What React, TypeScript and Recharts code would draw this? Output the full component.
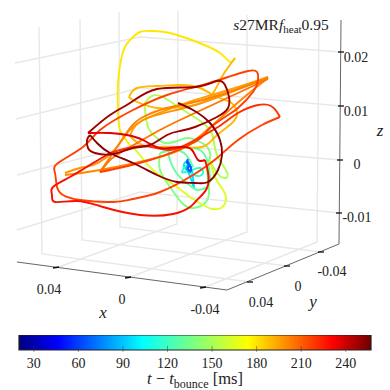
import React from "react";
import { ComposedChart, AreaChart, Area, Line, Scatter, XAxis, YAxis, ReferenceArea } from "recharts";

type P = [number, number];

const PLOT_FONT = "'Liberation Serif', 'DejaVu Serif', serif";

// Axis tick labels
const colorbarTicks = [30, 60, 90, 120, 150, 180, 210, 240];
const colorbarDomain = [20, 257];
const jetStops: [number, string][] = [
  [0, "#00007f"], [0.11, "#0000ff"], [0.35, "#00ffff"], [0.5, "#80ff7f"],
  [0.65, "#ffff00"], [0.89, "#ff0000"], [1, "#6f0000"],
];

// Grid lines and box, as read in the projected plane of the 3-D view
const gridSegments: P[][] = [
  [[15, 63], [140, 37], [341, 52]],
  [[16, 119], [140, 88], [341, 106]],
  [[17, 175], [140, 143], [340, 160]],
  [[17, 230], [140, 192], [339, 213]],
  [[39, 27], [42, 254], [250, 282]],
  [[80, 19], [82, 240], [287, 266]],
  [[119, 12], [120, 227], [321, 252]],
  [[178, 11], [177, 224], [56, 268]],
  [[247, 15], [247, 232], [128, 278]],
  [[319, 20], [317, 242], [203, 288]],
];
const boxAxes: P[][] = [
  [[17, 262], [227, 290], [339, 244], [341, 20]],
];
const tickMarks: P[][] = [
  [[53, 268], [59, 267]], [[125, 278], [131, 277]], [[200, 288], [206, 287]],
  [[247, 282], [253, 282]], [[284, 266], [290, 266]], [[318, 252], [324, 252]],
  [[338, 52], [344, 52]], [[338, 106], [344, 106]], [[337, 160], [343, 160]], [[336, 213], [342, 213]],
];

// Trajectory, one list per time band (early to late)
const navyA: P[] = [[188, 159], [187, 163], [190, 165], [188, 168], [191, 171], [190, 166], [187, 161]];
const blueA: P[] = [[187, 160], [189, 164], [187, 168], [190, 172], [191, 166]];
const cyanA: P[] = [[191, 166], [186, 162], [184, 166], [188, 172], [192, 182], [194, 188], [193, 178], [192, 170]];
const tealA: P[] = [[192, 170], [200, 168], [203, 173], [197, 176], [188, 172], [182, 172], [187, 165], [193, 167]];
const springA: P[] = [[193, 167], [184, 153], [170, 150], [170, 160], [178, 175], [192, 187], [198, 190], [207, 187], [210, 177], [207, 160], [200, 150], [190, 148], [177, 148], [170, 150], [160, 153]];
const greenA: P[] = [[160, 153], [160, 170], [170, 187], [182, 203], [193, 208], [205, 203], [209, 190], [207, 168], [210, 158], [208, 148], [200, 142], [188, 138], [177, 141], [165, 143], [157, 138]];
const limeA: P[] = [[157, 138], [148, 127], [145, 110], [145, 103], [152, 96], [163, 97], [180, 108], [203, 123], [213, 137], [217, 155], [227, 172], [225, 178], [217, 173], [210, 160]];
const yellowGreenA: P[] = [[210, 160], [215, 177], [223, 190], [226, 200], [221, 208], [213, 209], [207, 207], [190, 197], [177, 187], [153, 170], [140, 155], [130, 145]];
const yellowA: P[] = [[130, 145], [120, 130], [118, 110], [118, 83], [123, 52], [130, 40], [140, 32], [153, 31], [170, 33], [197, 42], [220, 53], [230, 62], [235, 58]];
const goldA: P[] = [[235, 58], [223, 75], [215, 90], [202, 103], [180, 107], [157, 108], [133, 100], [130, 95], [137, 88], [157, 86], [180, 85], [200, 88], [217, 97], [230, 102], [237, 112], [232, 123], [215, 137], [202, 147], [177, 147], [157, 147], [140, 144], [130, 136]];
const orangeA: P[] = [[130, 136], [140, 122], [167, 110], [195, 100], [235, 88], [268, 77]];
const orangeB: P[] = [[268, 77], [195, 105], [143, 120], [120, 143], [107, 157], [93, 165], [80, 168], [65, 173]];
const orangeC: P[] = [[65, 175], [100, 170], [160, 157], [195, 140], [235, 105], [268, 78]];
const orangeD: P[] = [[268, 78], [235, 90], [195, 102], [167, 108], [143, 117], [130, 128], [117, 147], [100, 172]];
const orangeE: P[] = [[100, 172], [110, 160], [125, 150], [160, 130], [195, 113], [268, 79]];
const redOrangeA: P[] = [[100, 172], [150, 160], [195, 142], [208, 130], [225, 117], [238, 108], [253, 92], [258, 80], [257, 72], [248, 71], [228, 77], [212, 82], [195, 87], [167, 95], [133, 110], [100, 130], [83, 147], [58, 163], [55, 173], [57, 187], [63, 195], [80, 200], [113, 202], [133, 199], [160, 192], [193, 175], [217, 158], [238, 140], [262, 125], [280, 117]];
const redOrangeB: P[] = [[280, 117], [277, 112], [271, 106], [258, 105], [238, 113], [218, 127], [195, 140], [170, 150], [143, 146], [110, 153]];
const redA: P[] = [[110, 153], [85, 168], [70, 177], [53, 187], [52, 195], [55, 202], [77, 201], [103, 207], [140, 215], [173, 214], [190, 207], [197, 200], [207, 188], [208, 172], [205, 160]];
const redB: P[] = [[205, 160], [198, 160], [192, 150], [180, 147], [160, 148], [143, 140], [127, 135], [110, 133], [88, 133]];
const darkRedA: P[] = [[88, 133], [110, 115], [130, 103], [157, 89], [195, 87], [217, 81], [225, 85], [229, 97], [228, 108], [217, 117], [195, 127], [180, 131], [167, 135], [150, 145], [133, 148], [113, 154], [95, 153], [88, 148], [87, 140], [90, 135]];
const darkRedB: P[] = [[90, 135], [97, 143], [110, 153], [133, 163], [157, 175], [177, 182], [195, 183], [208, 182], [218, 170], [222, 155], [220, 140], [210, 123], [193, 110], [178, 103]];

const trajectory: [P[], string][] = [
  [cyanA, "#00e0ff"], [tealA, "#20ffd0"], [springA, "#60ffa0"],
  [greenA, "#80ff80"], [limeA, "#b0ff50"], [yellowGreenA, "#d8ff20"], [yellowA, "#ffe800"],
  [goldA, "#ffb800"], [orangeA, "#ffa000"], [orangeB, "#ff9400"], [orangeC, "#ff8800"],
  [orangeD, "#ff8000"], [orangeE, "#ff7400"], [redOrangeA, "#ff4000"], [redOrangeB, "#ff3000"],
  [redA, "#f81000"], [redB, "#e00000"], [darkRedA, "#a00000"], [darkRedB, "#880000"],
  [blueA, "#0090ff"], [navyA, "#0060ff"],
];

const toPoints = (list: P[]) => list.map(([px, py]) => ({ px, py }));

// Text items placed in the projected plane
const plotLabels = [
  { px: 356, py: 57, text: "0.02" }, { px: 356, py: 111, text: "0.01" }, { px: 357, py: 164, text: "0" }, { px: 357, py: 217, text: "-0.01" },
  { px: 49, py: 289, text: "0.04" }, { px: 122, py: 299, text: "0" }, { px: 205, py: 309, text: "-0.04" },
  { px: 261, py: 302, text: "0.04" }, { px: 298, py: 286, text: "0" }, { px: 332, py: 271, text: "-0.04" },
  { px: 103, py: 312, text: "x", italic: true, big: true }, { px: 313, py: 301, text: "y", italic: true, big: true }, { px: 380, py: 130, text: "z", italic: true, big: true },
];
const titlePoint = [{ px: 281, py: 25 }];

const LabelShape = (props: any) => {
  const { cx, cy, payload } = props;
  return (
    <text x={cx} y={cy} dy="0.35em" textAnchor="middle" fontFamily={PLOT_FONT} fontSize={payload.big ? 17 : 14} fontStyle={payload.italic ? "italic" : "normal"} fill="#222">
      {payload.text}
    </text>
  );
};

const TitleShape = (props: any) => (
  <text x={props.cx} y={props.cy} dy="0.35em" textAnchor="middle" fontFamily={PLOT_FONT} fontSize={15.5} fill="#222">
    <tspan fontStyle="italic">s</tspan>27MR<tspan fontStyle="italic">f</tspan>
    <tspan fontSize={11} dy="3">heat</tspan><tspan dy="-3">0.95</tspan>
  </text>
);

const CbTick = (props: any) => {
  const { x, y, payload } = props;
  return (
    <g>
      <line x1={x} x2={x} y1={y - 12} y2={y - 6} stroke="#333" strokeOpacity={0.6} strokeWidth={0.8} />
      <text x={x} y={y + 5} dy="0.35em" textAnchor="middle" fontFamily={PLOT_FONT} fontSize={14} fill="#222">{payload.value}</text>
    </g>
  );
};

const cbData = [{ t: colorbarDomain[0], v: 1 }, { t: colorbarDomain[1], v: 1 }];

export default function App() {
  return (
    <div style={{ position: "absolute", left: 0, top: 0, width: 390, height: 390, background: "#fff" }}>
      <div style={{ position: "absolute", left: 0, top: 0 }}>
        <ComposedChart width={390} height={390} margin={{ top: 0, right: 0, bottom: 0, left: 0 }}>
          <XAxis dataKey="px" type="number" domain={[0, 390]} hide allowDataOverflow />
          <YAxis dataKey="py" type="number" domain={[0, 390]} reversed hide allowDataOverflow />
          {gridSegments.map((seg, i) => (
            <Line key={"g" + i} data={toPoints(seg)} dataKey="py" stroke="#e8e8e8" strokeWidth={1.4} dot={false} activeDot={false} isAnimationActive={false} legendType="none" />
          ))}
          {boxAxes.map((seg, i) => (
            <Line key={"a" + i} data={toPoints(seg)} dataKey="py" stroke="#666" strokeWidth={1} dot={false} activeDot={false} isAnimationActive={false} />
          ))}
          {tickMarks.map((seg, i) => (
            <Line key={"t" + i} data={toPoints(seg)} dataKey="py" stroke="#111" strokeWidth={1.3} dot={false} activeDot={false} isAnimationActive={false} />
          ))}
          {trajectory.map(([seg, color], i) => (
            <Line key={"s" + i} data={toPoints(seg)} dataKey="py" type="natural" stroke={color} strokeWidth={1.9} dot={false} activeDot={false} isAnimationActive={false} />
          ))}
          <Scatter data={titlePoint} shape={TitleShape} isAnimationActive={false} />
          <Scatter data={plotLabels} shape={LabelShape} isAnimationActive={false} />
        </ComposedChart>
      </div>
      <div style={{ position: "absolute", left: 0, top: 335 }}>
        <AreaChart width={390} height={40} data={cbData} margin={{ top: 0, right: 19, bottom: 0, left: 19 }}>
          <defs>
            <linearGradient id="jet" x1="0" x2="1" y1="0" y2="0">
              {jetStops.map(([o, c]) => <stop key={o} offset={o} stopColor={c} />)}
            </linearGradient>
          </defs>
          <XAxis dataKey="t" type="number" domain={colorbarDomain} ticks={colorbarTicks} tick={CbTick} tickLine={false} axisLine={false} height={25} interval={0} />
          <YAxis type="number" domain={[0, 1]} hide />
          <Area dataKey="v" type="linear" stroke="none" fill="url(#jet)" fillOpacity={1} isAnimationActive={false} />
          <ReferenceArea x1={colorbarDomain[0]} x2={colorbarDomain[1]} y1={0} y2={1} fill="none" stroke="#222" strokeWidth={1.2} />
        </AreaChart>
      </div>
      <div style={{ position: "absolute", left: 0, top: 369, width: 390, textAlign: "center", fontFamily: PLOT_FONT, fontSize: 16.5, color: "#222", whiteSpace: "nowrap" }}>
        <i>t</i> − <i>t</i><sub style={{ fontSize: 12, lineHeight: 0 }}>bounce</sub> [ms]
      </div>
    </div>
  );
}
